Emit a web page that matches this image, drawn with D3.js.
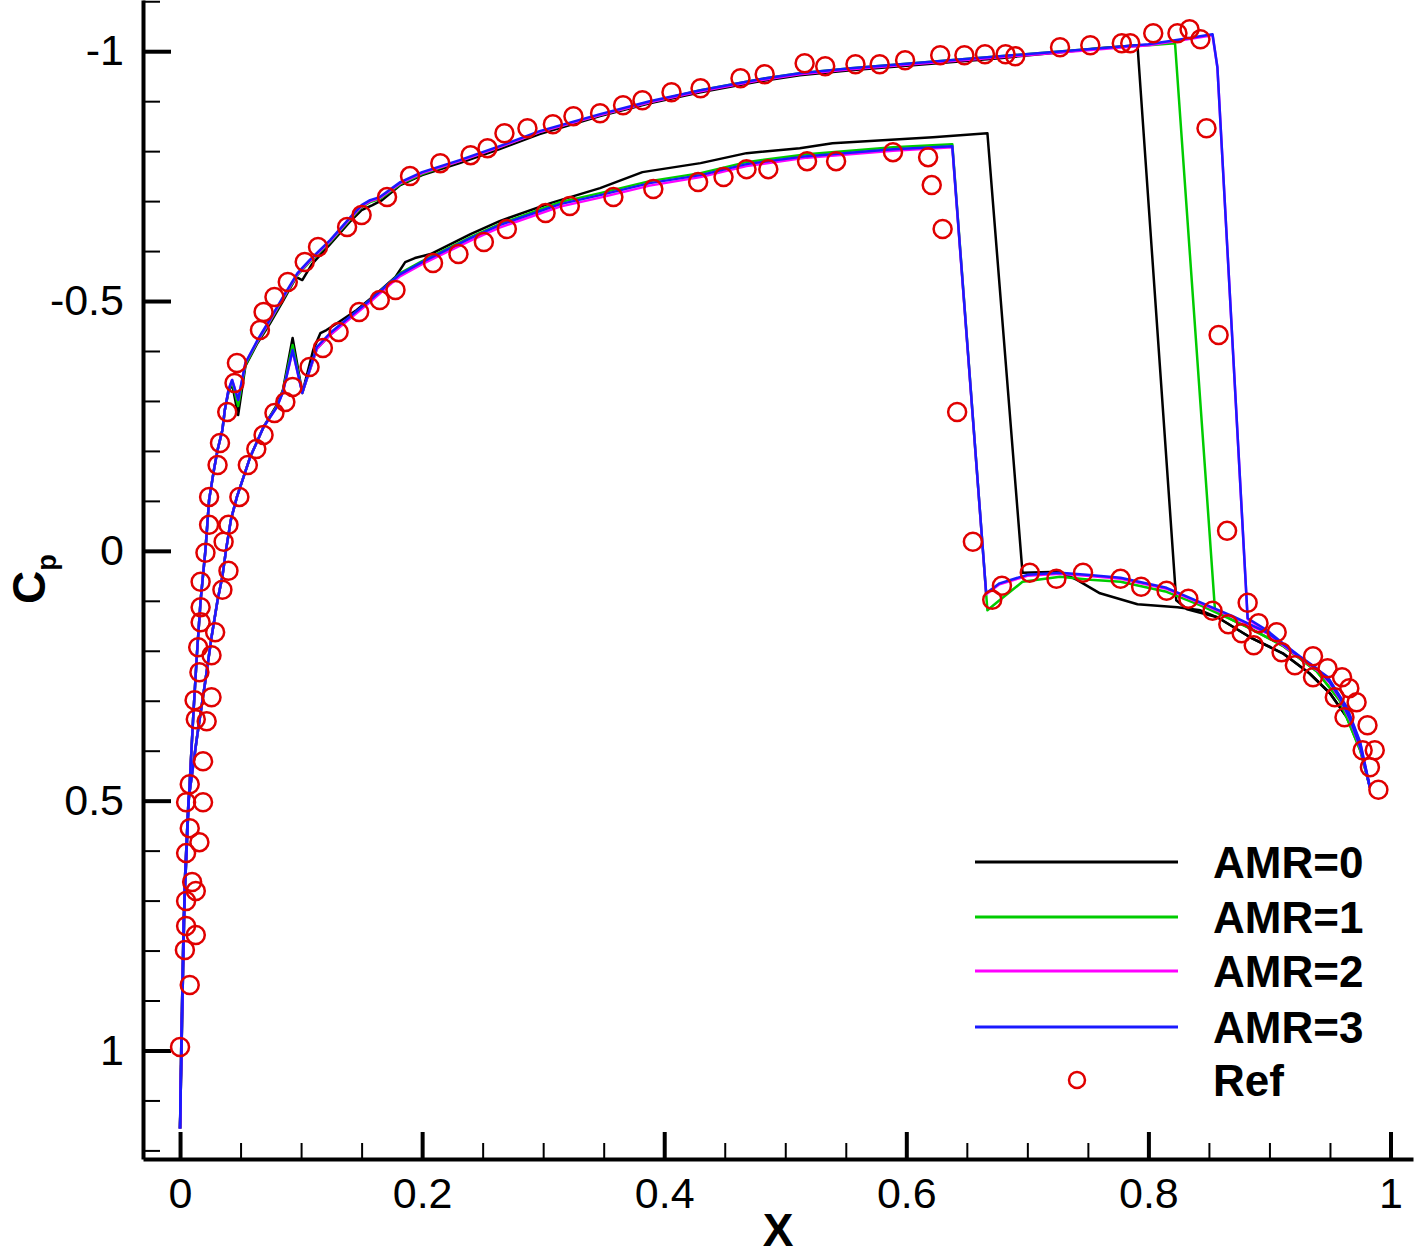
<!DOCTYPE html>
<html>
<head>
<meta charset="utf-8">
<script src="https://cdn.jsdelivr.net/npm/d3@7"></script>
<style>
  body { margin: 0; background: #fff; }
  text { font-family: Arial, "Liberation Sans", sans-serif; }
</style>
</head>
<body>
<div id="chart"></div>
<script>
// series: [x, Cp]
const amr0Upper = [[0.000,1.156],[0.001,0.991],[0.003,0.739],[0.007,0.509],[0.011,0.327],[0.014,0.205],[0.017,0.099],[0.021,-0.002],[0.024,-0.102],[0.028,-0.162],[0.031,-0.202],[0.035,-0.242],[0.037,-0.282],[0.040,-0.318],[0.043,-0.334],[0.048,-0.272],[0.054,-0.370],[0.064,-0.416],[0.074,-0.454],[0.085,-0.500],[0.096,-0.548],[0.101,-0.542],[0.109,-0.574],[0.124,-0.614],[0.140,-0.658],[0.150,-0.682],[0.159,-0.692],[0.167,-0.702],[0.182,-0.732],[0.200,-0.752],[0.231,-0.776],[0.264,-0.804],[0.297,-0.834],[0.347,-0.870],[0.388,-0.896],[0.430,-0.918],[0.479,-0.940],[0.512,-0.952],[0.554,-0.962],[0.595,-0.970],[0.636,-0.978],[0.677,-0.986],[0.719,-0.996],[0.760,-1.006],[0.791,-1.012],[0.823,0.099],[0.832,0.117],[0.857,0.133],[0.884,0.173],[0.911,0.205],[0.933,0.245],[0.950,0.285],[0.964,0.333],[0.975,0.393],[0.983,0.473]];
const amr0Lower = [[0.000,1.156],[0.002,0.899],[0.004,0.659],[0.007,0.499],[0.014,0.373],[0.021,0.259],[0.026,0.173],[0.031,0.099],[0.035,0.051],[0.038,-0.002],[0.042,-0.062],[0.047,-0.108],[0.058,-0.188],[0.069,-0.248],[0.080,-0.292],[0.085,-0.322],[0.093,-0.426],[0.101,-0.316],[0.110,-0.402],[0.116,-0.436],[0.121,-0.442],[0.130,-0.456],[0.146,-0.482],[0.163,-0.516],[0.178,-0.548],[0.186,-0.578],[0.194,-0.586],[0.207,-0.594],[0.240,-0.634],[0.264,-0.660],[0.306,-0.696],[0.347,-0.726],[0.382,-0.758],[0.430,-0.776],[0.468,-0.796],[0.512,-0.806],[0.539,-0.816],[0.622,-0.828],[0.667,-0.836],[0.696,0.044],[0.727,0.042],[0.741,0.058],[0.760,0.085],[0.791,0.107],[0.824,0.113],[0.843,0.119],[0.857,0.133],[0.884,0.173],[0.911,0.205],[0.933,0.245],[0.950,0.285],[0.964,0.333],[0.975,0.393],[0.983,0.473]];

const amr1Upper = [[0.000,1.156],[0.001,0.991],[0.003,0.739],[0.007,0.509],[0.011,0.327],[0.014,0.205],[0.017,0.099],[0.021,-0.002],[0.024,-0.102],[0.028,-0.162],[0.031,-0.202],[0.035,-0.242],[0.037,-0.282],[0.040,-0.320],[0.043,-0.338],[0.048,-0.290],[0.054,-0.372],[0.064,-0.418],[0.074,-0.458],[0.085,-0.504],[0.097,-0.552],[0.107,-0.578],[0.124,-0.618],[0.140,-0.662],[0.150,-0.688],[0.157,-0.698],[0.165,-0.704],[0.182,-0.734],[0.200,-0.754],[0.231,-0.780],[0.264,-0.808],[0.297,-0.838],[0.347,-0.872],[0.388,-0.898],[0.430,-0.922],[0.479,-0.944],[0.512,-0.956],[0.554,-0.966],[0.595,-0.974],[0.636,-0.982],[0.677,-0.990],[0.719,-0.998],[0.760,-1.006],[0.800,-1.012],[0.822,-1.016],[0.855,0.118],[0.870,0.139],[0.884,0.155],[0.911,0.190],[0.939,0.241],[0.958,0.299],[0.975,0.399],[0.983,0.473]];
const amr1Lower = [[0.000,1.156],[0.002,0.899],[0.004,0.659],[0.007,0.499],[0.014,0.373],[0.021,0.259],[0.026,0.173],[0.031,0.099],[0.035,0.051],[0.038,-0.002],[0.042,-0.062],[0.047,-0.108],[0.058,-0.188],[0.069,-0.248],[0.080,-0.290],[0.085,-0.320],[0.093,-0.412],[0.101,-0.316],[0.113,-0.404],[0.124,-0.432],[0.140,-0.466],[0.157,-0.502],[0.173,-0.536],[0.182,-0.556],[0.200,-0.580],[0.240,-0.628],[0.264,-0.654],[0.314,-0.698],[0.347,-0.716],[0.388,-0.740],[0.430,-0.756],[0.468,-0.778],[0.518,-0.794],[0.589,-0.808],[0.638,-0.814],[0.667,0.119],[0.677,0.099],[0.696,0.062],[0.727,0.052],[0.752,0.058],[0.777,0.062],[0.815,0.082],[0.843,0.109],[0.870,0.139],[0.884,0.155],[0.911,0.190],[0.939,0.241],[0.958,0.299],[0.975,0.399],[0.983,0.473]];

const amr2Upper = [[0.000,1.156],[0.001,0.991],[0.003,0.739],[0.007,0.509],[0.011,0.327],[0.014,0.205],[0.017,0.099],[0.021,-0.002],[0.024,-0.102],[0.028,-0.162],[0.031,-0.202],[0.035,-0.242],[0.037,-0.282],[0.040,-0.322],[0.043,-0.342],[0.048,-0.302],[0.054,-0.376],[0.064,-0.420],[0.074,-0.460],[0.085,-0.506],[0.097,-0.554],[0.107,-0.580],[0.124,-0.620],[0.140,-0.664],[0.150,-0.690],[0.157,-0.700],[0.165,-0.706],[0.182,-0.736],[0.200,-0.756],[0.231,-0.780],[0.264,-0.808],[0.297,-0.838],[0.347,-0.872],[0.388,-0.898],[0.430,-0.920],[0.479,-0.942],[0.512,-0.954],[0.554,-0.964],[0.595,-0.972],[0.636,-0.980],[0.677,-0.988],[0.719,-0.996],[0.760,-1.004],[0.800,-1.012],[0.822,-1.020],[0.853,-1.032],[0.857,-0.968],[0.882,0.137],[0.898,0.161],[0.911,0.187],[0.925,0.213],[0.939,0.237],[0.950,0.265],[0.958,0.295],[0.967,0.341],[0.975,0.395],[0.983,0.473]];
const amr2Lower = [[0.000,1.156],[0.002,0.899],[0.004,0.659],[0.007,0.499],[0.014,0.373],[0.021,0.259],[0.026,0.173],[0.031,0.099],[0.035,0.051],[0.038,-0.002],[0.042,-0.062],[0.047,-0.108],[0.058,-0.188],[0.069,-0.248],[0.080,-0.288],[0.085,-0.318],[0.093,-0.400],[0.101,-0.316],[0.113,-0.404],[0.124,-0.432],[0.140,-0.464],[0.157,-0.498],[0.173,-0.532],[0.182,-0.550],[0.200,-0.574],[0.240,-0.621],[0.264,-0.647],[0.314,-0.689],[0.347,-0.707],[0.388,-0.731],[0.430,-0.748],[0.468,-0.770],[0.518,-0.787],[0.589,-0.801],[0.638,-0.808],[0.666,0.087],[0.677,0.067],[0.700,0.050],[0.727,0.046],[0.749,0.050],[0.777,0.056],[0.815,0.076],[0.843,0.105],[0.870,0.133],[0.898,0.165],[0.925,0.214],[0.948,0.254],[0.964,0.315],[0.975,0.385],[0.983,0.473]];

const amr3Upper = [[0.000,1.156],[0.001,0.991],[0.003,0.739],[0.007,0.509],[0.011,0.327],[0.014,0.205],[0.017,0.099],[0.021,-0.002],[0.024,-0.102],[0.028,-0.162],[0.031,-0.202],[0.035,-0.242],[0.037,-0.282],[0.040,-0.322],[0.043,-0.342],[0.048,-0.302],[0.054,-0.376],[0.064,-0.422],[0.074,-0.462],[0.085,-0.508],[0.097,-0.556],[0.107,-0.582],[0.124,-0.622],[0.140,-0.666],[0.150,-0.692],[0.157,-0.702],[0.165,-0.708],[0.182,-0.738],[0.200,-0.758],[0.231,-0.782],[0.264,-0.810],[0.297,-0.840],[0.347,-0.874],[0.388,-0.900],[0.430,-0.922],[0.479,-0.944],[0.512,-0.956],[0.554,-0.966],[0.595,-0.974],[0.636,-0.982],[0.677,-0.990],[0.719,-0.998],[0.760,-1.006],[0.800,-1.014],[0.822,-1.022],[0.853,-1.034],[0.857,-0.968],[0.882,0.135],[0.898,0.159],[0.911,0.185],[0.925,0.211],[0.939,0.235],[0.950,0.263],[0.958,0.293],[0.967,0.339],[0.975,0.393],[0.983,0.473]];
const amr3Lower = [[0.000,1.156],[0.002,0.899],[0.004,0.659],[0.007,0.499],[0.014,0.373],[0.021,0.259],[0.026,0.173],[0.031,0.099],[0.035,0.051],[0.038,-0.002],[0.042,-0.062],[0.047,-0.108],[0.058,-0.188],[0.069,-0.248],[0.080,-0.288],[0.085,-0.318],[0.093,-0.402],[0.101,-0.316],[0.113,-0.408],[0.124,-0.436],[0.140,-0.468],[0.157,-0.502],[0.173,-0.536],[0.182,-0.554],[0.200,-0.578],[0.240,-0.626],[0.264,-0.652],[0.314,-0.694],[0.347,-0.712],[0.388,-0.736],[0.430,-0.752],[0.468,-0.774],[0.518,-0.790],[0.589,-0.804],[0.638,-0.810],[0.666,0.085],[0.677,0.065],[0.700,0.048],[0.727,0.044],[0.749,0.048],[0.777,0.054],[0.815,0.074],[0.843,0.103],[0.870,0.131],[0.898,0.163],[0.925,0.212],[0.948,0.252],[0.964,0.313],[0.975,0.383],[0.983,0.473]];

const refPoints = [
  [0.000,0.993],[0.008,0.869],[0.004,0.799],[0.013,0.769],[0.005,0.751],[0.005,0.701],[0.013,0.681],[0.010,0.663],[0.005,0.605],[0.016,0.583],[0.008,0.555],[0.019,0.503],[0.005,0.503],[0.008,0.467],[0.019,0.421],[0.022,0.341],[0.013,0.337],[0.012,0.299],[0.026,0.293],[0.016,0.243],[0.026,0.209],[0.015,0.193],[0.029,0.163],[0.017,0.143],[0.017,0.113],[0.035,0.078],[0.017,0.062],[0.040,0.040],[0.021,0.004],[0.036,-0.018],[0.040,-0.052],[0.024,-0.052],[0.024,-0.108],[0.031,-0.172],[0.033,-0.216],[0.039,-0.278],[0.045,-0.336],[0.047,-0.376],[0.066,-0.442],[0.069,-0.478],[0.078,-0.508],[0.089,-0.538],[0.103,-0.578],[0.114,-0.608],[0.138,-0.648],[0.150,-0.672],[0.171,-0.708],
  [0.190,-0.750],[0.215,-0.776],[0.240,-0.792],[0.254,-0.806],[0.268,-0.836],[0.287,-0.846],[0.308,-0.854],[0.325,-0.870],[0.347,-0.876],[0.366,-0.892],[0.382,-0.902],[0.406,-0.918],[0.430,-0.926],[0.463,-0.946],[0.483,-0.954],[0.516,-0.976],[0.533,-0.970],[0.558,-0.974],[0.578,-0.974],[0.599,-0.982],[0.628,-0.992],[0.648,-0.992],[0.665,-0.994],[0.682,-0.994],[0.690,-0.990],[0.727,-1.008],[0.752,-1.012],[0.778,-1.016],[0.785,-1.016],[0.804,-1.036],[0.824,-1.036],[0.834,-1.044],[0.843,-1.024],[0.848,-0.846],[0.858,-0.432],[0.865,-0.040],[0.882,0.104],
  [0.049,-0.108],[0.056,-0.172],[0.063,-0.204],[0.069,-0.232],[0.078,-0.276],[0.087,-0.298],[0.093,-0.328],[0.107,-0.368],[0.118,-0.406],[0.131,-0.438],[0.148,-0.478],[0.165,-0.502],[0.178,-0.522],[0.209,-0.576],[0.230,-0.594],[0.251,-0.618],[0.270,-0.644],[0.302,-0.676],[0.322,-0.690],[0.358,-0.708],[0.391,-0.724],[0.428,-0.738],[0.449,-0.748],[0.468,-0.764],[0.486,-0.764],[0.518,-0.780],[0.542,-0.780],[0.589,-0.798],[0.618,-0.788],[0.621,-0.732],[0.630,-0.644],[0.642,-0.278],[0.655,-0.018],
  [0.671,0.098],[0.679,0.070],[0.702,0.044],[0.724,0.056],[0.746,0.044],[0.777,0.056],[0.794,0.072],[0.815,0.080],[0.833,0.096],[0.853,0.120],[0.866,0.147],[0.877,0.165],[0.891,0.145],[0.887,0.189],[0.906,0.163],[0.910,0.203],[0.921,0.229],[0.936,0.211],[0.936,0.253],[0.948,0.235],[0.954,0.293],[0.960,0.253],[0.966,0.275],[0.962,0.333],[0.972,0.303],[0.981,0.349],[0.977,0.399],[0.987,0.399],[0.983,0.433],[0.990,0.478]
];

const xMajor = [0, 0.2, 0.4, 0.6, 0.8, 1];
const xMinor = [0.05, 0.1, 0.15, 0.25, 0.3, 0.35, 0.45, 0.5, 0.55, 0.65, 0.7, 0.75, 0.85, 0.9, 0.95];
const yMajor = [-1, -0.5, 0, 0.5, 1];
const yMinor = [-1.1, -0.9, -0.8, -0.7, -0.6, -0.4, -0.3, -0.2, -0.1, 0.1, 0.2, 0.3, 0.4, 0.6, 0.7, 0.8, 0.9, 1.1, 1.2];
const legendNames = ['AMR=0', 'AMR=1', 'AMR=2', 'AMR=3'];
const seriesColors = ['#000000', '#00cc00', '#ff00ff', '#1a1aff'];

const width = 1415, height = 1258;

const svg = d3.select('#chart')
  .append('svg')
  .attr('width', width)
  .attr('height', height)
  .style('background-color', '#fff');

// Cp axis is reversed: negative at top
const x = d3.scaleLinear().domain([-0.0306, 1.0186]).range([143, 1413]);
const y = d3.scaleLinear().domain([-1.1025, 1.2172]).range([0, 1159]);

const fmt = d => String(d);

// minor ticks first, then major axes with the thick spine
svg.append('g')
  .attr('transform', 'translate(0,1159)')
  .call(d3.axisBottom(x).tickValues(xMinor).tickSize(-16).tickSizeOuter(0).tickFormat(''))
  .call(g => g.select('.domain').remove())
  .call(g => g.selectAll('line').attr('stroke-width', 2));

svg.append('g')
  .attr('transform', 'translate(143,0)')
  .call(d3.axisLeft(y).tickValues(yMinor).tickSize(-17).tickSizeOuter(0).tickFormat(''))
  .call(g => g.select('.domain').remove())
  .call(g => g.selectAll('line').attr('stroke-width', 2));

svg.append('g')
  .attr('transform', 'translate(0,1159)')
  .call(d3.axisBottom(x).tickValues(xMajor).tickSize(-27).tickSizeOuter(0).tickPadding(18).tickFormat(fmt))
  .call(g => g.select('.domain').attr('stroke-width', 4))
  .call(g => g.selectAll('line').attr('stroke-width', 4))
  .call(g => g.selectAll('text').attr('font-size', 43).attr('font-family', 'Arial, "Liberation Sans", sans-serif').attr('fill', '#000'));

svg.append('g')
  .attr('transform', 'translate(143,0)')
  .call(d3.axisLeft(y).tickValues(yMajor).tickSize(-28).tickSizeOuter(0).tickPadding(19).tickFormat(fmt))
  .call(g => g.select('.domain').attr('stroke-width', 4))
  .call(g => g.selectAll('line').attr('stroke-width', 4))
  .call(g => g.selectAll('text').attr('font-size', 43).attr('font-family', 'Arial, "Liberation Sans", sans-serif').attr('fill', '#000'));

// axis titles
svg.append('text')
  .attr('x', 778)
  .attr('y', 1246)
  .attr('text-anchor', 'middle')
  .attr('font-size', 46)
  .attr('font-weight', 'bold')
  .text('X');

const cp = svg.append('text')
  .attr('transform', 'translate(45,604) rotate(-90)')
  .attr('font-weight', 'bold');
cp.append('tspan').attr('font-size', 46).text('C');
cp.append('tspan').attr('font-size', 27).attr('dy', 11).text('p');

// curves
const line = d3.line()
  .x(d => x(d[0]))
  .y(d => y(d[1]));

const series = [
  [amr0Upper, amr0Lower],
  [amr1Upper, amr1Lower],
  [amr2Upper, amr2Lower],
  [amr3Upper, amr3Lower]
];

series.forEach((pair, i) => {
  pair.forEach(surface => {
    svg.append('path')
      .datum(surface)
      .attr('fill', 'none')
      .attr('stroke', seriesColors[i])
      .attr('stroke-width', 2.5)
      .attr('stroke-linejoin', 'round')
      .attr('d', line);
  });
});

// reference data
svg.append('g')
  .selectAll('circle')
  .data(refPoints)
  .enter()
  .append('circle')
  .attr('cx', d => x(d[0]))
  .attr('cy', d => y(d[1]))
  .attr('r', 9)
  .attr('fill', 'none')
  .attr('stroke', '#e00000')
  .attr('stroke-width', 2.5);

// legend
const legend = svg.append('g');
const rowY = [862, 917, 971, 1027, 1080];

legendNames.forEach((name, i) => {
  legend.append('line')
    .attr('x1', 975).attr('x2', 1178)
    .attr('y1', rowY[i]).attr('y2', rowY[i])
    .attr('stroke', seriesColors[i])
    .attr('stroke-width', 3);
  legend.append('text')
    .attr('x', 1213)
    .attr('y', rowY[i] + 16)
    .attr('font-size', 44)
    .attr('font-weight', 'bold')
    .text(name);
});

legend.append('circle')
  .attr('cx', 1077).attr('cy', rowY[4])
  .attr('r', 8)
  .attr('fill', 'none')
  .attr('stroke', '#e00000')
  .attr('stroke-width', 2.5);
legend.append('text')
  .attr('x', 1213)
  .attr('y', rowY[4] + 16)
  .attr('font-size', 44)
  .attr('font-weight', 'bold')
  .text('Ref');
</script>
</body>
</html>
